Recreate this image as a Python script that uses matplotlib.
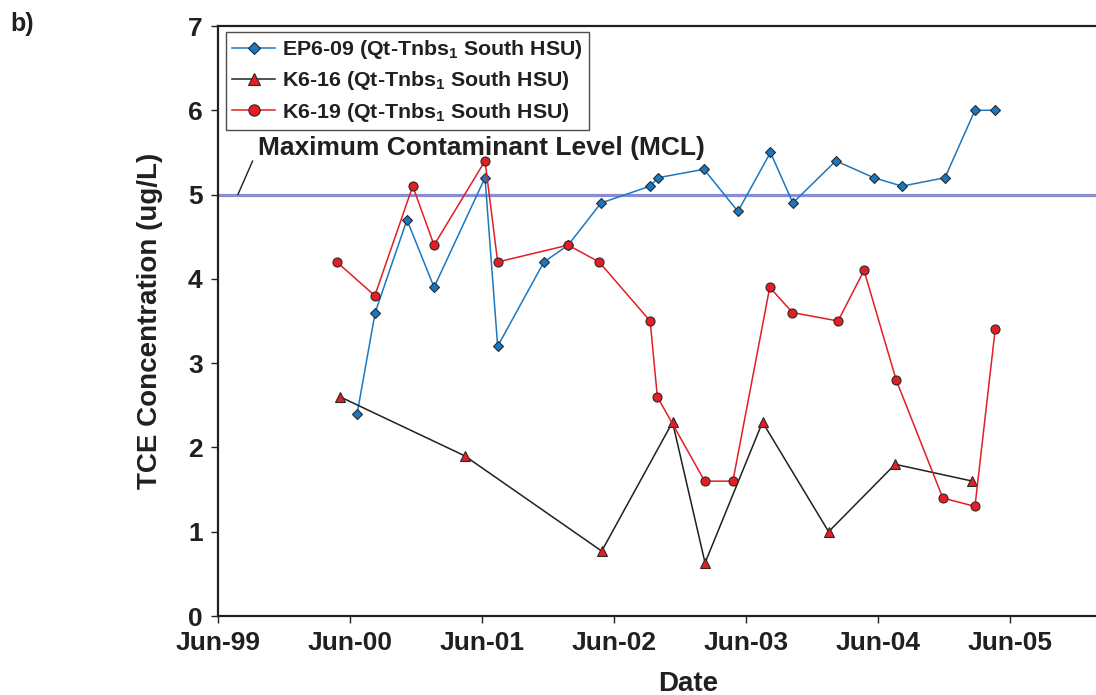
import numpy as np
import matplotlib
matplotlib.use('Agg')
from matplotlib import pyplot as plt
import matplotlib.dates as mdates
from datetime import datetime

plt.rcParams['font.family'] = ['Liberation Sans', 'DejaVu Sans']
plt.rcParams['font.weight'] = 'bold'
plt.rcParams['mathtext.fontset'] = 'custom'
plt.rcParams['mathtext.rm'] = 'Liberation Sans:bold'
plt.rcParams['mathtext.it'] = 'Liberation Sans:bold'
plt.rcParams['mathtext.bf'] = 'Liberation Sans:bold'

# datos
ep609_fechas = ['2000-06-20', '2000-08-09', '2000-11-05', '2001-01-19', '2001-06-09',
                '2001-07-14', '2001-11-19', '2002-01-25', '2002-04-26', '2002-09-09',
                '2002-10-01', '2003-02-05', '2003-05-10', '2003-08-08', '2003-10-09',
                '2004-02-05', '2004-05-20', '2004-08-06', '2004-12-03', '2005-02-24',
                '2005-04-21']
ep609_tce = [2.4, 3.6, 4.7, 3.9, 5.2, 3.2, 4.2, 4.4, 4.9, 5.1, 5.2, 5.3, 4.8, 5.5, 4.9,
             5.4, 5.2, 5.1, 5.2, 6.0, 6.0]

k616_fechas = ['2000-05-04', '2001-04-14', '2002-04-28', '2002-11-10', '2003-02-08',
               '2003-07-17', '2004-01-16', '2004-07-18', '2005-02-17']
k616_tce = [2.6, 1.9, 0.77, 2.3, 0.63, 2.3, 1.0, 1.8, 1.6]

k619_fechas = ['2000-04-25', '2000-08-08', '2000-11-21', '2001-01-19', '2001-06-09',
               '2001-07-14', '2002-01-25', '2002-04-21', '2002-09-09', '2002-09-29',
               '2003-02-07', '2003-04-26', '2003-08-06', '2003-10-08', '2004-02-11',
               '2004-04-23', '2004-07-21', '2004-11-27', '2005-02-24', '2005-04-21']
k619_tce = [4.2, 3.8, 5.1, 4.4, 5.4, 4.2, 4.4, 4.2, 3.5, 2.6, 1.6, 1.6, 3.9, 3.6, 3.5,
            4.1, 2.8, 1.4, 1.3, 3.4]

mcl = 5.0
etiquetas = ['EP6-09 (Qt-Tnbs$_1$ South HSU)',
             'K6-16 (Qt-Tnbs$_1$ South HSU)',
             'K6-19 (Qt-Tnbs$_1$ South HSU)']
ticks_x = ['1999-06-01', '2000-06-01', '2001-06-01', '2002-06-01', '2003-06-01',
           '2004-06-01', '2005-06-01']


def a_fechas(lista):
    return [datetime.strptime(s, '%Y-%m-%d') for s in lista]


fig = plt.figure(figsize=(10.96, 6.95), dpi=100)
ax = fig.add_axes([218 / 1096, 79 / 695, 878 / 1096, 590 / 695])

# linea del MCL
ax.axhline(mcl, color='#8c8cd2', lw=2.3, zorder=1)

ax.plot(a_fechas(ep609_fechas), ep609_tce, color='#1a78c2', lw=1.1, marker='D', ms=5,
        mfc='#1a78c2', mec='#2a2a2a', mew=0.8, label=etiquetas[0], zorder=3)
ax.plot(a_fechas(k616_fechas), k616_tce, color='#231f20', lw=1.1, marker='^', ms=7,
        mfc='#e31e24', mec='#2a2a2a', mew=0.8, label=etiquetas[1], zorder=3)
ax.plot(a_fechas(k619_fechas), k619_tce, color='#e31e24', lw=1.1, marker='o', ms=6.5,
        mfc='#e31e24', mec='#2a2a2a', mew=0.8, label=etiquetas[2], zorder=3)

# etiqueta del MCL
ax.annotate('', xy=(datetime(1999, 7, 26), 5.0), xytext=(datetime(1999, 9, 5), 5.4),
            arrowprops=dict(arrowstyle='-', color='#231f20', lw=1.0, shrinkA=0, shrinkB=0))
ax.text(datetime(1999, 9, 20), 5.47, 'Maximum Contaminant Level (MCL)', fontsize=19,
        fontweight='bold', color='#231f20', va='baseline', ha='left')

ax.set_xlim(datetime(1999, 6, 1), datetime(2006, 1, 25))
ax.set_ylim(0, 7)
ax.set_yticks(np.arange(0, 8, 1))
ax.set_xticks(a_fechas(ticks_x))
ax.xaxis.set_major_formatter(mdates.DateFormatter('%b-%y'))

for s in ['left', 'bottom', 'top']:
    ax.spines[s].set_linewidth(1.6)
    ax.spines[s].set_color('#231f20')
ax.spines['right'].set_visible(False)
ax.tick_params(axis='both', direction='out', length=5, width=1.0, colors='#231f20',
               labelsize=19, pad=6)

ax.set_ylabel('TCE Concentration (ug/L)', fontsize=20, fontweight='bold', color='#231f20')
ax.set_xlabel('Date', fontsize=20, fontweight='bold', color='#231f20')
ax.yaxis.set_label_coords(-0.063, 0.5)
ax.xaxis.set_label_coords(0.535, -0.093)

leg = ax.legend(loc='upper left', bbox_to_anchor=(0.009, 0.99), fontsize=15.4,
                frameon=True, fancybox=False, edgecolor='#231f20', handlelength=2.0,
                labelspacing=0.38, borderpad=0.3, handletextpad=0.3, borderaxespad=0,
                markerscale=1.25)
leg.get_frame().set_linewidth(1.0)
for t in leg.get_texts():
    t.set_color('#231f20')

fig.text(10 / 1096, 1 - 31 / 695, 'b)', fontsize=18, fontweight='bold', color='#231f20')

fig.savefig('out.png', dpi=100)
